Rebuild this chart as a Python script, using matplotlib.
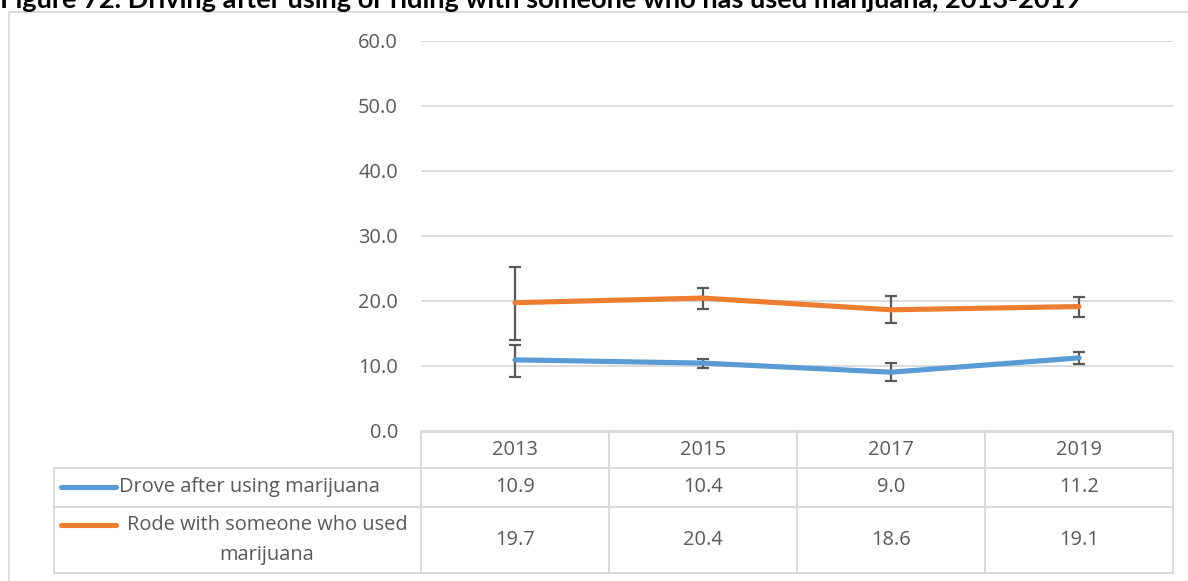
import matplotlib
matplotlib.use('Agg')
import matplotlib.pyplot as plt
from matplotlib.patches import Rectangle
import numpy as np

title = "Figure 72. Driving after using or riding with someone who has used marijuana, 2013-2019"
years = ["2013", "2015", "2017", "2019"]
drove_name = "Drove after using marijuana"
rode_name_l1 = "Rode with someone who used"
rode_name_l2 = "marijuana"
drove = [10.9, 10.4, 9.0, 11.2]
drove_lo = [8.2, 9.7, 7.6, 10.3]
drove_hi = [13.2, 11.1, 10.4, 12.1]
rode = [19.7, 20.4, 18.6, 19.1]
rode_lo = [13.9, 18.8, 16.5, 17.5]
rode_hi = [25.2, 21.9, 20.7, 20.6]
yticks = [0, 10, 20, 30, 40, 50, 60]

BLUE = '#5B9BD5'
ORANGE = '#ED7D31'
GREY = '#595959'
LINE = '#D9D9D9'
FONT = 'Open Sans'
FS = 14.4

W, H = 1188, 581
fig = plt.figure(figsize=(W / 100, H / 100), dpi=100)
fig.patch.set_facecolor('white')

x0, x1 = 421, 1173
ytop, ybot = 40.7, 430.7
ax = fig.add_axes([x0 / W, 1 - ybot / H, (x1 - x0) / W, (ybot - ytop) / H])
x = np.arange(len(years))
ax.set_xlim(-0.5, len(years) - 0.5)
ax.set_ylim(0, 60)
ax.set_yticks(yticks)
ax.set_yticklabels([f"{v:.1f}" for v in yticks], fontfamily=FONT, fontsize=FS, color=GREY)
ax.set_xticks([])
ax.tick_params(axis='y', length=0, pad=16.6)
for s in ax.spines.values():
    s.set_visible(False)
ax.grid(axis='y', color=LINE, lw=1.3)
ax.set_axisbelow(True)
ax.patch.set_alpha(0)

d = np.array(drove); r = np.array(rode)
ax.errorbar(x, d, yerr=[d - np.array(drove_lo), np.array(drove_hi) - d], fmt='none',
            ecolor=GREY, elinewidth=1.6, capsize=4.3, capthick=1.6, zorder=2)
ax.errorbar(x, r, yerr=[r - np.array(rode_lo), np.array(rode_hi) - r], fmt='none',
            ecolor=GREY, elinewidth=1.6, capsize=4.3, capthick=1.6, zorder=2)
ax.plot(x, d, color=BLUE, lw=3.7, solid_capstyle='round', solid_joinstyle='round', zorder=3)
ax.plot(x, r, color=ORANGE, lw=3.7, solid_capstyle='round', solid_joinstyle='round', zorder=3)

# overlay in pixel coordinates for table, border and title
ov = fig.add_axes([0, 0, 1, 1], zorder=5)
ov.set_xlim(0, W)
ov.set_ylim(H, 0)
ov.axis('off')
ov.patch.set_alpha(0)

# outer chart border
ov.add_patch(Rectangle((9, 12), W + 20, H + 20, fill=False, ec=LINE, lw=1.3, clip_on=False))

# title (clipped at top, as in the source)
ov.text(0, 8, title, fontfamily='Lato', fontweight='bold', fontsize=19.6,
        color='black', ha='left', va='baseline')

# data table
n = len(years)
colw = (x1 - x0) / n
hdr_top, r1_top, r2_top, bot = 432, 468, 507, 573
tleft = 54
lw_t = 1.4
ov.plot([x0, x1], [hdr_top, hdr_top], color=LINE, lw=lw_t)
for yy in (r1_top, r2_top, bot):
    ov.plot([tleft, x1], [yy, yy], color=LINE, lw=lw_t)
ov.plot([tleft, tleft], [r1_top, bot], color=LINE, lw=lw_t)
for k in range(n + 1):
    xx = x0 + k * colw
    ov.plot([xx, xx], [hdr_top, bot], color=LINE, lw=lw_t)

for i, yr in enumerate(years):
    cx = x0 + (i + 0.5) * colw
    ov.text(cx, (hdr_top + r1_top) / 2, yr, fontfamily=FONT, fontsize=FS, color=GREY,
            ha='center', va='center')
    ov.text(cx, (r1_top + r2_top) / 2, f"{drove[i]:.1f}", fontfamily=FONT, fontsize=FS,
            color=GREY, ha='center', va='center')
    ov.text(cx, (r2_top + bot) / 2, f"{rode[i]:.1f}", fontfamily=FONT, fontsize=FS,
            color=GREY, ha='center', va='center')

# legend keys
ov.plot([61, 116], [487, 487], color=BLUE, lw=3.7, solid_capstyle='round')
ov.plot([61, 116], [525, 525], color=ORANGE, lw=3.7, solid_capstyle='round')
ov.text(119, 487, drove_name, fontfamily=FONT, fontsize=FS, color=GREY, ha='left', va='center')
ov.text(267, 525, rode_name_l1, fontfamily=FONT, fontsize=FS, color=GREY, ha='center', va='center')
ov.text(267, 555, rode_name_l2, fontfamily=FONT, fontsize=FS, color=GREY, ha='center', va='center')

fig.savefig('out.png', dpi=100)
